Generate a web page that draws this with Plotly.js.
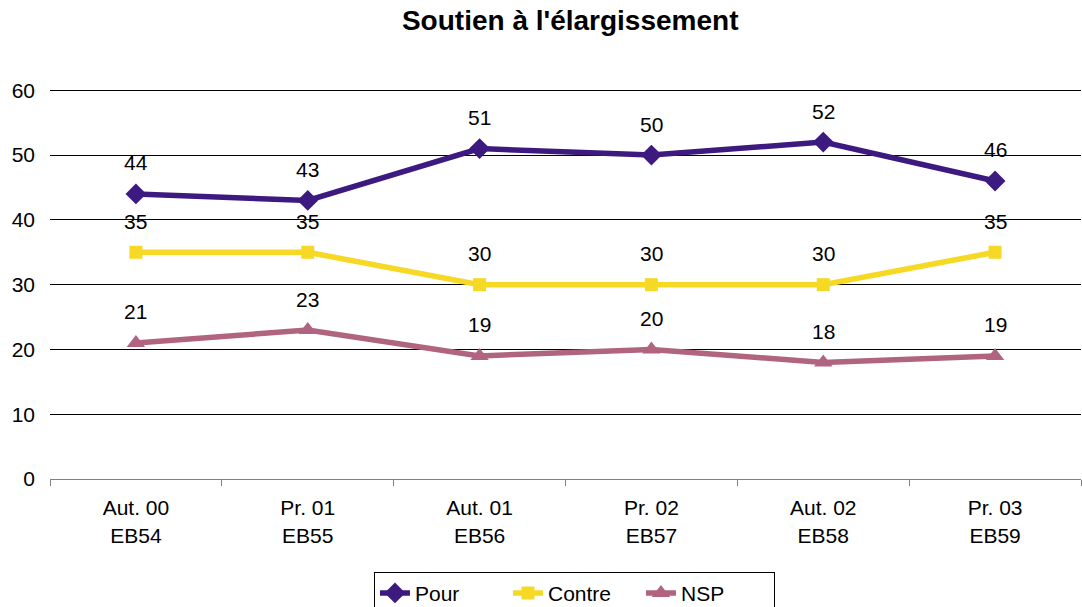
<!DOCTYPE html>
<html><head><meta charset="utf-8">
<script src="https://cdn.plot.ly/plotly-3.0.1.min.js"></script>
<style>html,body{margin:0;padding:0;background:#fff}</style>
</head><body><div id="c" style="width:1082px;height:607px"></div>
<script>
const categories = ["Aut. 00<br>EB54","Pr. 01<br>EB55","Aut. 01<br>EB56","Pr. 02<br>EB57","Aut. 02<br>EB58","Pr. 03<br>EB59"];
const pour = [44, 43, 51, 50, 52, 46];
const contre = [35, 35, 30, 30, 30, 35];
const nsp = [21, 23, 19, 20, 18, 19];
const yTicks = [0, 10, 20, 30, 40, 50, 60];

const FONT = 'Liberation Sans, Arial, sans-serif';
function tr(name, y, color, symbol, msize) {
  return {
    x: categories, y: y, name: name, type: 'scatter', mode: 'lines+markers',
    line: {color: color, width: 5.5},
    marker: {symbol: symbol, size: msize, color: color},
    cliponaxis: false
  };
}
const data = [
  tr('Pour', pour, '#3D1A80', 'diamond', 16),
  tr('Contre', contre, '#F5D925', 'square', 13),
  tr('NSP', nsp, '#B06480', 'triangle-up', 16)
];
const annotations = [];
[pour, contre, nsp].forEach(arr => {
  arr.forEach((v, i) => {
    annotations.push({x: categories[i], y: v, xref: 'x', yref: 'y', text: String(v),
      showarrow: false, yshift: 31, font: {family: FONT, size: 21, color: '#000'}});
  });
});
const layout = {
  width: 1082, height: 607,
  margin: {l: 50, r: 1, t: 89, b: 128},
  paper_bgcolor: '#fff', plot_bgcolor: '#fff',
  font: {family: FONT, size: 21, color: '#000'},
  title: {text: "<b>Soutien à l'élargissement</b>", x: 0.527, xanchor: 'center', y: 0.967, yanchor: 'middle',
    font: {size: 28, family: FONT, color: '#000'}},
  xaxis: {type: 'category', tickson: 'boundaries', ticks: 'outside', ticklen: 6, tickcolor: '#808080',
    showline: true, linecolor: '#808080', linewidth: 1, showgrid: false, zeroline: false,
    tickfont: {size: 21}, range: [-0.5, 5.5], automargin: false, ticklabelstandoff: 10},
  yaxis: {range: [0, 60.2], tickvals: yTicks, ticktext: yTicks.map(String), showgrid: true,
    gridcolor: '#000', gridwidth: 1, zeroline: false, showline: false, ticks: '', ticklabelstandoff: 14,
    tickfont: {size: 21}, automargin: false},
  showlegend: true,
  legend: {orientation: 'h', x: 0.5087, xanchor: 'center', yref: 'container', y: 0.058, yanchor: 'top',
    bordercolor: '#000', borderwidth: 1, font: {size: 21}, entrywidth: 88, traceorder: 'normal'},
  annotations: annotations
};
Plotly.newPlot('c', data, layout, {displayModeBar: false, staticPlot: true});
</script></body></html>
